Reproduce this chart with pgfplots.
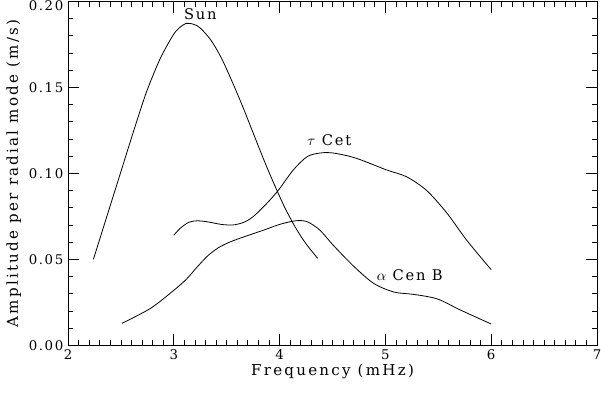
\documentclass[border=0pt]{standalone}
\usepackage{fontspec}
\setmainfont[LetterSpace=12]{DejaVu Serif}
\newfontfamily\labelfont[LetterSpace=15]{DejaVu Serif}
\usepackage{pgfplots}
\pgfplotsset{compat=1.18}
\usetikzlibrary{calc}

\begin{document}
\begin{tikzpicture}
\begin{axis}[
  name=ax,
  scale only axis,
  width=396.75pt, height=258pt,
  xmin=2, xmax=7, ymin=0, ymax=0.20,
  xtick={2,3,4,5,6,7},
  ytick={0,0.05,0.10,0.15},
  extra y ticks={0.20},
  extra y tick labels={0.20},
  extra y tick style={yticklabel style={/tikz/yshift=-3.5pt}},
  minor x tick num=9,
  minor ytick={0.01,0.02,0.03,0.04,0.06,0.07,0.08,0.09,0.11,0.12,0.13,0.14,0.16,0.17,0.18,0.19},
  tick align=inside,
  tick pos=both,
  major tick length=8.5pt,
  minor tick length=4pt,
  tick style={draw=black, line width=0.6pt},
  axis line style={line width=0.6pt},
  font=\fontsize{10}{12}\selectfont,
  /pgf/number format/assume math mode=true,
  yticklabel style={/pgf/number format/fixed, /pgf/number format/fixed zerofill,
    /pgf/number format/precision=2},
  xticklabel style={/pgf/number format/fixed, /pgf/number format/precision=0},
  scaled y ticks=false,
  xlabel={Frequency (mHz)},
  ylabel={Amplitude per radial mode (m/s)},
  label style={font=\labelfont\fontsize{11.3}{13}\selectfont},
  xlabel style={yshift=4pt},
  ylabel style={yshift=-1pt},
  cycle list={{black}},
  every axis plot/.append style={line width=0.6pt, smooth, no markers},
  clip=false,
]
% Sun
\addplot coordinates {
 (2.24,0.050) (2.37,0.0755) (2.49,0.099) (2.62,0.1245) (2.74,0.147) (2.87,0.1665)
 (2.99,0.180) (3.05,0.1845) (3.12,0.1872) (3.19,0.1866) (3.25,0.1845) (3.35,0.1775)
 (3.45,0.167) (3.55,0.1535) (3.65,0.139) (3.75,0.1235) (3.85,0.108) (3.95,0.0935)
 (4.05,0.080) (4.15,0.0685) (4.25,0.059) (4.36,0.0506)
};
% tau Cet
\addplot coordinates {
 (3.00,0.064) (3.06,0.068) (3.14,0.0715) (3.22,0.0724) (3.32,0.0718) (3.45,0.0703)
 (3.56,0.0700) (3.66,0.0715) (3.75,0.0748) (3.88,0.0826) (3.99,0.0903) (4.13,0.102)
 (4.26,0.1097) (4.38,0.1118) (4.48,0.112) (4.62,0.1105) (4.76,0.108) (5.01,0.102)
 (5.20,0.098) (5.39,0.090) (5.58,0.077) (5.77,0.061) (6.00,0.044)
};
% alpha Cen B
\addplot coordinates {
 (2.51,0.0128) (2.78,0.0215) (3.00,0.032) (3.12,0.0385) (3.22,0.0455) (3.32,0.052)
 (3.42,0.0567) (3.52,0.0598) (3.65,0.0628) (3.85,0.067) (4.00,0.0703) (4.15,0.0724)
 (4.26,0.0719) (4.38,0.067) (4.51,0.058) (4.70,0.046) (4.89,0.036) (5.08,0.031)
 (5.27,0.0296) (5.49,0.027) (5.71,0.0205) (6.00,0.0124)
};
\node[font=\fontsize{11}{13}\selectfont] at (axis cs:3.25,0.1925) {Sun};
\node[font=\fontsize{11}{13}\selectfont] at (axis cs:4.47,0.119) {$\tau$ Cet};
\node[font=\fontsize{11}{13}\selectfont] at (axis cs:5.23,0.041) {$\alpha$ Cen B};
\end{axis}
\pgfresetboundingbox
\path ($(ax.south west)+(-51pt,-35.8pt)$) rectangle ($(ax.north east)+(3pt,1pt)$);
\end{tikzpicture}
\end{document}
